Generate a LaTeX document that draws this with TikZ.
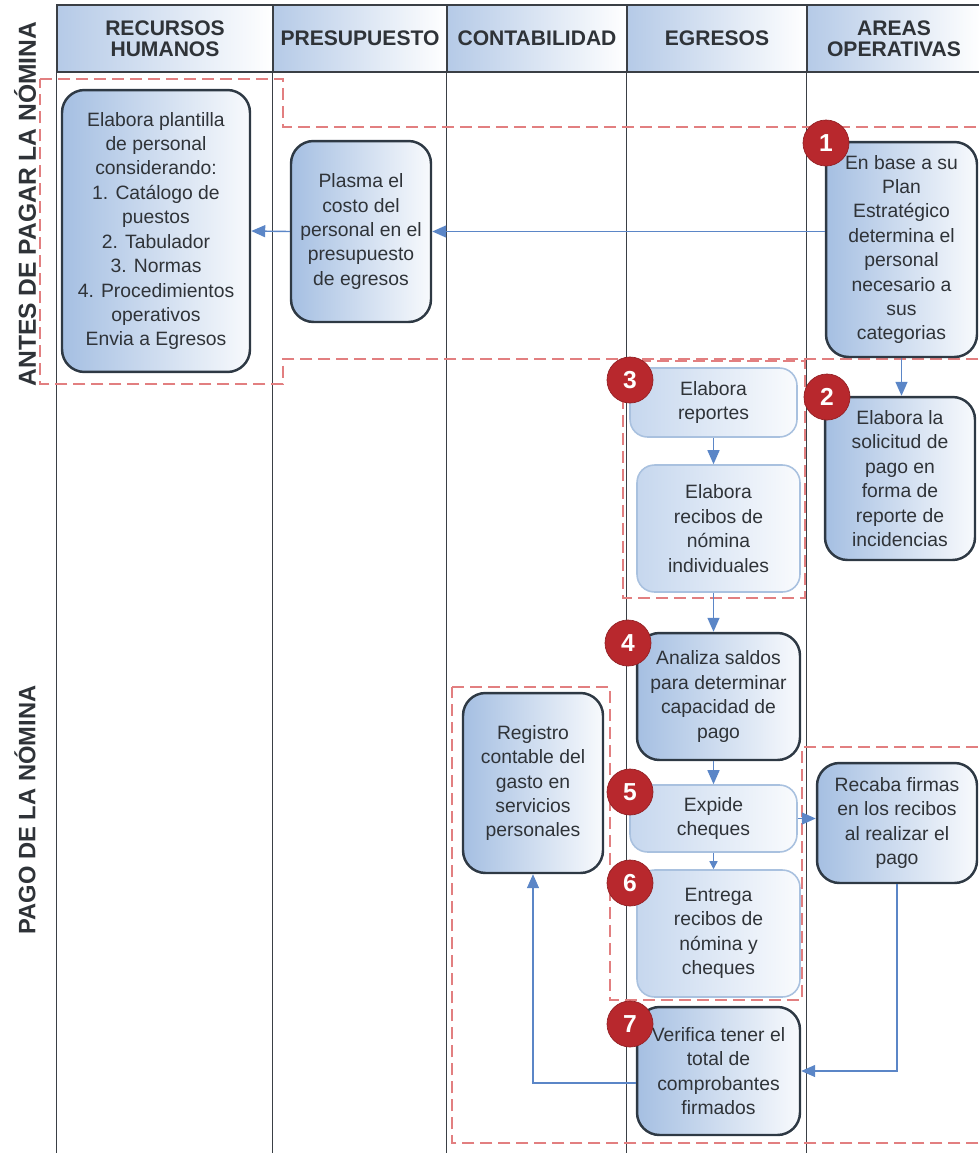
\documentclass[tikz,border=0pt]{standalone}
\usepackage{fontspec}
\setmainfont{Liberation Sans}
\usetikzlibrary{arrows.meta}

\definecolor{laneline}{HTML}{3A3F45}
\definecolor{hdrblue}{HTML}{B5CAE7}
\definecolor{boxblue}{HTML}{A5BFE2}
\definecolor{boxedge}{HTML}{2E3944}
\definecolor{softblue}{HTML}{C6D7EE}
\definecolor{softedge}{HTML}{A9C1DF}
\definecolor{stepred}{HTML}{B8282D}
\definecolor{zonered}{HTML}{E27F80}
\definecolor{flowblue}{HTML}{5B86C7}
\definecolor{inktext}{HTML}{2F3338}

\tikzset{
  lane/.style={draw=laneline, line width=0.8pt},
  header/.style={draw=laneline, line width=0.8pt, left color=hdrblue, right color=white,
    minimum height=1.34cm, inner sep=0pt, align=center, text=inktext,
    font=\fontsize{12}{12}\selectfont\bfseries},
  phase/.style={rotate=90, text=inktext, font=\fontsize{13.5}{14}\selectfont\bfseries},
  task/.style={draw=boxedge, line width=1.4pt, rounded corners=0.45cm, left color=boxblue,
    right color=white!92!boxblue, align=center, inner sep=0pt, text=inktext,
    font=\fontsize{11}{13.9}\selectfont},
  subtask/.style={task, draw=softedge, line width=0.9pt, rounded corners=0.35cm,
    left color=softblue, right color=white!90!softblue},
  stepno/.style={circle, fill=stepred, draw=stepred!80!black, line width=0.4pt,
    minimum size=0.92cm, inner sep=0pt, text=white, font=\fontsize{14}{14}\selectfont\bfseries},
  zone/.style={draw=zonered, line width=1.1pt, dash pattern=on 0.24cm off 0.12cm},
  flow/.style={draw=flowblue, line width=0.8pt, -{Triangle[length=0.28cm,width=0.24cm]}},
  shortflow/.style={flow, -{Triangle[length=0.16cm,width=0.16cm]}},
}

\begin{document}
\begin{tikzpicture}[x=0.02cm, y=-0.02cm]
   \useasboundingbox (0,0) rectangle (979,1153);
   \clip (0,0) rectangle (979,1153);

   % swimlane headers
   \node (hdrRH) at (165,38.5) [header, minimum width=4.32cm] {RECURSOS\\HUMANOS};
   \node (hdrPres) at (360,38.5) [header, minimum width=3.48cm] {PRESUPUESTO};
   \node (hdrCont) at (537,38.5) [header, minimum width=3.6cm] {CONTABILIDAD};
   \node (hdrEgr) at (717,38.5) [header, minimum width=3.6cm] {EGRESOS};
   \node (hdrAreas) at (894,38.5) [header, minimum width=3.48cm] {AREAS\\OPERATIVAS};

   \draw [lane] (hdrRH.south west) -- (hdrRH.south west |- 0,1153);
   \draw [lane] (hdrPres.south west) -- (hdrPres.south west |- 0,1153);
   \draw [lane] (hdrCont.south west) -- (hdrCont.south west |- 0,1153);
   \draw [lane] (hdrEgr.south west) -- (hdrEgr.south west |- 0,1153);
   \draw [lane] (hdrAreas.south west) -- (hdrAreas.south west |- 0,1153);

   \node (Antes) at (25,204) [phase, font=\fontsize{14}{14}\selectfont\bfseries] {ANTES DE PAGAR LA NÓMINA};
   \node (Pago) at (25,810) [phase] {PAGO DE LA NÓMINA};

   % dashed groupings
   \draw [zone] (40,79) -- (283,79) -- (283,127) -- (990,127) -- (990,359) -- (283,359) -- (283,384) -- (40,384) -- cycle;
   \draw [zone] (623,361) rectangle (805,598);
   \draw [zone] (452,687) -- (610,687) -- (610,1000) -- (802,1000) -- (802,747) -- (990,747) -- (990,1143) -- (452,1143) -- cycle;

   % tasks
   \node (plantilla) at (156,231) [task, minimum width=3.76cm, minimum height=5.64cm] {Elabora plantilla\\de personal\\considerando:\\1. Catálogo de\\puestos\\2. Tabulador\\3. Normas\\4. Procedimientos\\operativos\\Envia a Egresos};
   \node (plasma) at (361,231.5) [task, minimum width=2.8cm, minimum height=3.62cm] {Plasma el\\costo del\\personal en el\\presupuesto\\de egresos};
   \node (enbase) at (901.5,249.5) [task, minimum width=3.02cm, minimum height=4.3cm] {En base a su\\Plan\\Estratégico\\determina el\\personal\\necesario a\\sus\\categorias};
   \node (solicitud) at (900,478.5) [task, minimum width=3.0cm, minimum height=3.26cm] {Elabora la\\solicitud de\\pago en\\forma de\\reporte de\\incidencias};
   \node (reportes) at (713.5,402.5) [subtask, minimum width=3.34cm, minimum height=1.38cm] {Elabora\\reportes};
   \node (recibos) at (718.5,528.5) [subtask, minimum width=3.26cm, minimum height=2.54cm] {Elabora\\recibos de\\nómina\\individuales};
   \node (analiza) at (718.5,696.5) [task, minimum width=3.26cm, minimum height=2.54cm] {Analiza saldos\\para determinar\\capacidad de\\pago};
   \node (registro) at (533,783) [task, minimum width=2.8cm, minimum height=3.6cm] {Registro\\contable del\\gasto en\\servicios\\personales};
   \node (expide) at (713.5,818.5) [subtask, minimum width=3.34cm, minimum height=1.34cm] {Expide\\cheques};
   \node (entrega) at (718.5,933.5) [subtask, minimum width=3.26cm, minimum height=2.54cm] {Entrega\\recibos de\\nómina y\\cheques};
   \node (recaba) at (897,823) [task, minimum width=3.2cm, minimum height=2.4cm] {Recaba firmas\\en los recibos\\al realizar el\\pago};
   \node (verifica) at (718.5,1071) [task, minimum width=3.26cm, minimum height=2.56cm] {Verifica tener el\\total de\\comprobantes\\firmados};

   % flow
   \draw [flow] (enbase.west |- plasma.east) -- (plasma.east);
   \draw [flow] (plasma.west) -- (plantilla.east);
   \draw [flow] (enbase.south) -- (enbase.south |- solicitud.north);
   \draw [flow] (reportes.south) -- (reportes.south |- recibos.north);
   \draw [flow] (recibos.south -| reportes.south) -- (reportes.south |- analiza.north);
   \draw [flow] (analiza.south -| reportes.south) -- (reportes.south |- expide.north);
   \draw [shortflow] (expide.south) -- (expide.south |- entrega.north);
   \draw [flow] (expide.east) -- (expide.east -| recaba.west);
   \draw [flow] (recaba.south) |- (verifica.east);
   \draw [flow] ([yshift=-0.24cm]verifica.west) -| (registro.south);

   % step numbers
   \node (paso1) at (826,143) [stepno] {1};
   \node (paso2) at (827,397) [stepno] {2};
   \node (paso3) at (630,380) [stepno] {3};
   \node (paso4) at (628,643) [stepno] {4};
   \node (paso5) at (630,792) [stepno] {5};
   \node (paso6) at (630,883) [stepno] {6};
   \node (paso7) at (630,1024) [stepno] {7};

\end{tikzpicture}
\end{document}
